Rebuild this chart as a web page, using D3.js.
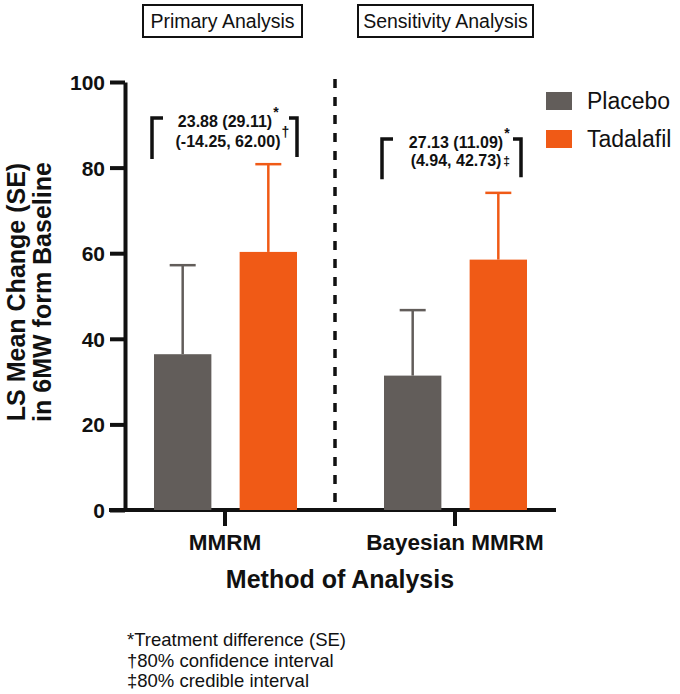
<!DOCTYPE html>
<html>
<head>
<meta charset="utf-8">
<script src="https://cdn.jsdelivr.net/npm/d3@7"></script>
<style>
	body { margin: 0; background: #fff; }
	svg { display: block; font-family: 'Liberation Sans', Arial, sans-serif; }
</style>
</head>
<body>
<div id="svg-wrapper"></div>
<script>
// chart values
var groups = [ 'MMRM', 'Bayesian MMRM' ];
var series = [ 'Placebo', 'Tadalafil' ];
var means = [
	[ 36.4, 60.3 ],
	[ 31.4, 58.5 ]
];
var errors = [
	[ 20.8, 20.5 ],
	[ 15.3, 15.6 ]
];
var yTicks = [ 0, 20, 40, 60, 80, 100 ];
var panelTitles = [ 'Primary Analysis', 'Sensitivity Analysis' ];
var diffLines = [
	[ '23.88 (29.11)', '(-14.25, 62.00)' ],
	[ '27.13 (11.09)', '(4.94, 42.73)' ]
];
var diffMarks = [ [ '*', '\u2020' ], [ '*', '\u2021' ] ];
var footnotes = [ '*Treatment difference (SE)', '\u202080% confidence interval', '\u202180% credible interval' ];

var colors = { Placebo: '#625d5a', Tadalafil: '#f05a16' };

var sizes = { width: 680, height: 694 };

var els = {};

els.svg = d3.select( '#svg-wrapper' ).append( 'svg' )
	.attr( 'width', sizes.width )
	.attr( 'height', sizes.height );

var scales = {};

scales.y = d3.scaleLinear()
	.domain( [ 0, 100 ] )
	.range( [ 510, 82 ] );

scales.x0 = d3.scaleBand()
	.domain( groups )
	.range( [ 110, 570 ] );

scales.x1 = d3.scaleBand()
	.domain( series )
	.range( [ 44, 187 ] )
	.paddingInner( 0.33 );

// y axis
var yAxis = d3.axisLeft( scales.y )
	.tickValues( yTicks )
	.tickSize( 15 )
	.tickSizeOuter( 0 )
	.tickPadding( 5 );

els.yAxis = els.svg.append( 'g' )
	.attr( 'transform', 'translate(125,0)' )
	.call( yAxis );

els.yAxis.selectAll( 'path, line' )
	.attr( 'stroke', '#111' )
	.attr( 'stroke-width', 4 );

els.yAxis.selectAll( 'text' )
	.attr( 'fill', '#111' )
	.style( 'font-size', '21px' )
	.style( 'font-weight', 'bold' )
	.attr( 'dy', '0.36em' );

// x axis
var xAxis = d3.axisBottom( scales.x0 )
	.tickSize( 16 )
	.tickSizeOuter( 0 )
	.tickPadding( 8 );

els.xAxis = els.svg.append( 'g' )
	.attr( 'transform', 'translate(0,' + scales.y( 0 ) + ')' )
	.call( xAxis );

els.xAxis.select( '.domain' ).remove();

els.xAxis.selectAll( 'line' )
	.attr( 'stroke', '#111' )
	.attr( 'stroke-width', 4 );

els.xAxis.selectAll( 'text' )
	.attr( 'fill', '#111' )
	.style( 'font-size', '22.5px' )
	.style( 'font-weight', 'bold' );

els.svg.append( 'line' )
	.attr( 'x1', 109 )
	.attr( 'x2', 556 )
	.attr( 'y1', scales.y( 0 ) )
	.attr( 'y2', scales.y( 0 ) )
	.attr( 'stroke', '#111' )
	.attr( 'stroke-width', 4 );

// divider
els.svg.append( 'line' )
	.attr( 'x1', 335 )
	.attr( 'x2', 335 )
	.attr( 'y1', 79 )
	.attr( 'y2', 506 )
	.attr( 'stroke', '#111' )
	.attr( 'stroke-width', 3.5 )
	.attr( 'stroke-dasharray', '9,9' );

// bars + error bars
var barData = [];
groups.forEach( function ( g, gi ) {
	series.forEach( function ( s, si ) {
		barData.push( { group: g, series: s, mean: means[gi][si], err: errors[gi][si] } );
	} );
} );

var barX = function ( d ) { return scales.x0( d.group ) + scales.x1( d.series ); };
var barMid = function ( d ) { return barX( d ) + scales.x1.bandwidth() / 2; };

els.svg.selectAll( 'line.err' )
	.data( barData )
	.enter()
	.append( 'line' )
	.classed( 'err', true )
	.attr( 'x1', barMid )
	.attr( 'x2', barMid )
	.attr( 'y1', function ( d ) { return scales.y( d.mean ); } )
	.attr( 'y2', function ( d ) { return scales.y( d.mean + d.err ); } )
	.attr( 'stroke', function ( d ) { return colors[d.series]; } )
	.attr( 'stroke-width', 2.5 );

els.svg.selectAll( 'line.cap' )
	.data( barData )
	.enter()
	.append( 'line' )
	.classed( 'cap', true )
	.attr( 'x1', function ( d ) { return barMid( d ) - 13; } )
	.attr( 'x2', function ( d ) { return barMid( d ) + 13; } )
	.attr( 'y1', function ( d ) { return scales.y( d.mean + d.err ); } )
	.attr( 'y2', function ( d ) { return scales.y( d.mean + d.err ); } )
	.attr( 'stroke', function ( d ) { return colors[d.series]; } )
	.attr( 'stroke-width', 2.5 );

els.svg.selectAll( 'rect.bar' )
	.data( barData )
	.enter()
	.append( 'rect' )
	.classed( 'bar', true )
	.attr( 'x', barX )
	.attr( 'y', function ( d ) { return scales.y( d.mean ); } )
	.attr( 'width', scales.x1.bandwidth() )
	.attr( 'height', function ( d ) { return scales.y( 0 ) - scales.y( d.mean ); } )
	.attr( 'fill', function ( d ) { return colors[d.series]; } );

// treatment difference brackets
var brackets = [
	{ left: 152, right: 297, top: 91.6, bottom: 82, cx: 225, y1: 127, y2: 147, supInline: false },
	{ left: 382, right: 521, top: 86.7, bottom: 77.3, cx: 456, y1: 148, y2: 166, supInline: true }
];

brackets.forEach( function ( b, i ) {
	var yt = scales.y( b.top ), yb = scales.y( b.bottom );
	els.svg.append( 'path' )
		.attr( 'd', 'M' + ( b.left + 11 ) + ',' + yt + 'H' + b.left + 'V' + yb )
		.attr( 'fill', 'none' )
		.attr( 'stroke', '#111' )
		.attr( 'stroke-width', 3.5 );
	els.svg.append( 'path' )
		.attr( 'd', 'M' + ( b.right - 8 ) + ',' + yt + 'H' + b.right + 'V' + ( yb - 2 ) )
		.attr( 'fill', 'none' )
		.attr( 'stroke', '#111' )
		.attr( 'stroke-width', 3.5 );

	[ b.y1, b.y2 ].forEach( function ( y, li ) {
		var t = els.svg.append( 'text' )
			.attr( 'x', b.cx + ( li === 1 && !b.supInline ? 3 : 0 ) )
			.attr( 'y', y )
			.attr( 'text-anchor', 'middle' )
			.attr( 'fill', '#111' )
			.style( 'font-size', '16px' )
			.style( 'font-weight', 'bold' )
			.text( diffLines[i][li] );
		var end = b.cx + ( li === 1 && !b.supInline ? 3 : 0 ) + t.node().getComputedTextLength() / 2;
		var inline = li === 1 && b.supInline;
		els.svg.append( 'text' )
			.attr( 'x', end + ( inline ? 2 : 1 ) )
			.attr( 'y', inline ? y - 1 : y - 10 )
			.attr( 'fill', '#111' )
			.style( 'font-size', inline ? '12px' : '14px' )
			.style( 'font-weight', 'bold' )
			.text( diffMarks[i][li] );
	} );
} );

// panel titles
var titleBoxes = [ { x: 143, w: 159 }, { x: 358, w: 175 } ];
panelTitles.forEach( function ( name, i ) {
	els.svg.append( 'rect' )
		.attr( 'x', titleBoxes[i].x )
		.attr( 'y', 5 )
		.attr( 'width', titleBoxes[i].w )
		.attr( 'height', 32 )
		.attr( 'fill', 'none' )
		.attr( 'stroke', '#111' )
		.attr( 'stroke-width', 2 );
	els.svg.append( 'text' )
		.attr( 'x', titleBoxes[i].x + titleBoxes[i].w / 2 )
		.attr( 'y', 28 )
		.attr( 'text-anchor', 'middle' )
		.attr( 'fill', '#111' )
		.style( 'font-size', '19.5px' )
		.text( name );
} );

// legend
var legend = els.svg.selectAll( 'g.legend' )
	.data( series )
	.enter()
	.append( 'g' )
	.classed( 'legend', true )
	.attr( 'transform', function ( d, i ) { return 'translate(546,' + ( 92 + i * 38 ) + ')'; } );

legend.append( 'rect' )
	.attr( 'width', 26 )
	.attr( 'height', 18 )
	.attr( 'fill', function ( d ) { return colors[d]; } );

legend.append( 'text' )
	.attr( 'x', 41 )
	.attr( 'y', 17 )
	.attr( 'fill', '#111' )
	.style( 'font-size', '23px' )
	.text( function ( d ) { return d; } );

// axis titles
els.svg.append( 'text' )
	.attr( 'x', 340 )
	.attr( 'y', 588 )
	.attr( 'text-anchor', 'middle' )
	.attr( 'fill', '#111' )
	.style( 'font-size', '25px' )
	.style( 'font-weight', 'bold' )
	.text( 'Method of Analysis' );

var yTitle = els.svg.append( 'text' )
	.attr( 'transform', 'translate(25,292) rotate(-90)' )
	.attr( 'text-anchor', 'middle' )
	.attr( 'fill', '#111' )
	.style( 'font-size', '25px' )
	.style( 'font-weight', 'bold' );

yTitle.append( 'tspan' ).attr( 'x', 0 ).attr( 'y', 0 ).text( 'LS Mean Change (SE)' );
yTitle.append( 'tspan' ).attr( 'x', 0 ).attr( 'y', 26 ).text( 'in 6MW form Baseline' );

// footnotes
els.svg.selectAll( 'text.foot' )
	.data( footnotes )
	.enter()
	.append( 'text' )
	.classed( 'foot', true )
	.attr( 'x', 127 )
	.attr( 'y', function ( d, i ) { return 646 + i * 20.7; } )
	.attr( 'fill', '#111' )
	.style( 'font-size', '18.5px' )
	.text( function ( d ) { return d; } );
</script>
</body>
</html>
